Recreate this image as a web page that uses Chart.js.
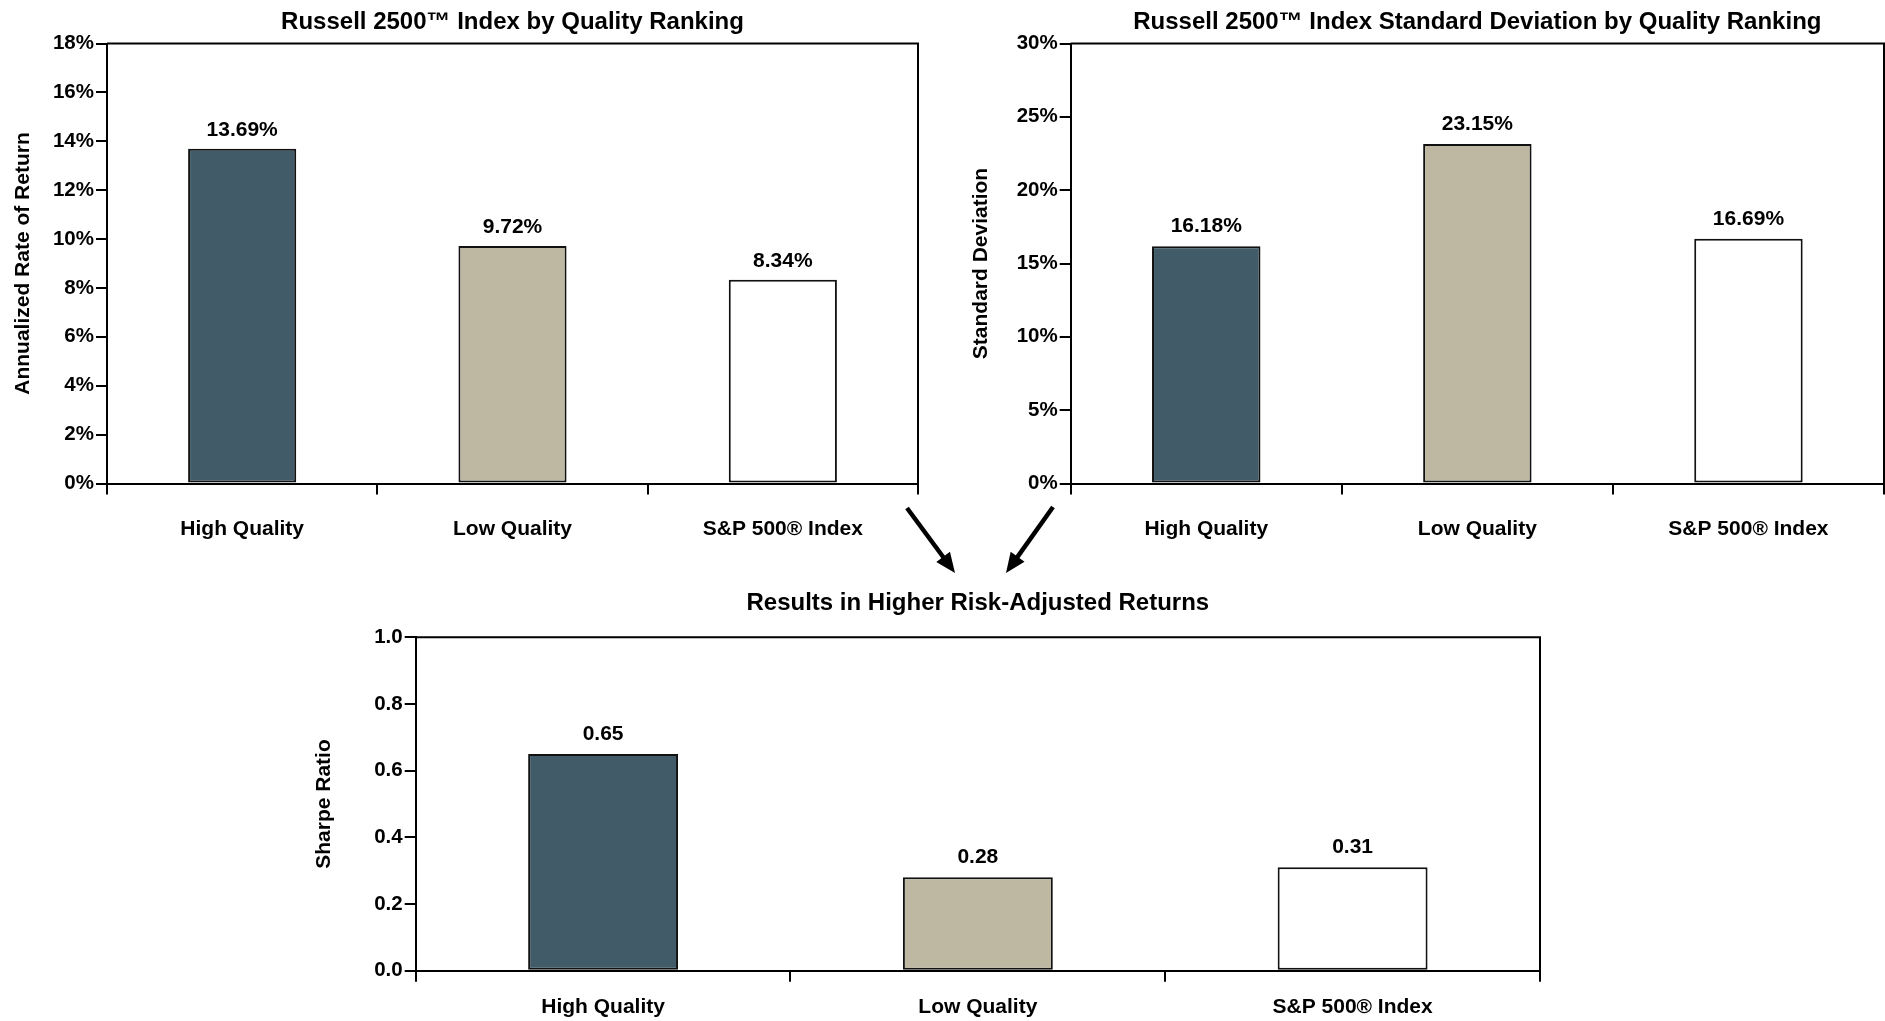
<!DOCTYPE html>
<html>
<head>
<meta charset="utf-8">
<script src="https://cdn.jsdelivr.net/npm/chart.js@4.4.1/dist/chart.umd.min.js"></script>
<style>
    body { margin: 0; background: #fff; width: 1885px; height: 1021px; overflow: hidden; position: relative; }
    .box { position: absolute; }
</style>
</head>
<body>
<div class="box" style="left:0px;top:0px;width:940px;height:560px"><canvas id="returnChart"></canvas></div>
<div class="box" style="left:960px;top:0px;width:925px;height:560px"><canvas id="stdChart"></canvas></div>
<div class="box" style="left:280px;top:490px;width:1300px;height:531px"><canvas id="sharpeChart"></canvas></div>
<script>
// data
const categories = ['High Quality', 'Low Quality', 'S&P 500® Index'];
const returnValues = [13.69, 9.72, 8.34];
const stdDevValues = [16.18, 23.15, 16.69];
const sharpeValues = [0.65, 0.28, 0.31];
const returnTicks = { min: 0, max: 18, step: 2 };
const stdDevTicks = { min: 0, max: 30, step: 5 };
const sharpeTicks = { min: 0, max: 1, step: 0.2 };
const barColors = ['#415b69', '#beb8a3', '#ffffff'];

const FONT = '"Liberation Sans", Arial, Helvetica, sans-serif';
Chart.defaults.font.family = FONT;
Chart.defaults.font.weight = 'bold';
Chart.defaults.color = '#000';

// value printed above each bar
const valueLabels = {
    id: 'valueLabels',
    afterDatasetsDraw(chart, args, opts) {
        const ctx = chart.ctx;
        const meta = chart.getDatasetMeta(0);
        const values = chart.data.datasets[0].data;
        ctx.save();
        ctx.font = 'bold 21px ' + FONT;
        ctx.fillStyle = '#000';
        ctx.textAlign = 'center';
        ctx.textBaseline = 'middle';
        meta.data.forEach((bar, i) => {
            ctx.fillText(opts.format(values[i]), bar.x, bar.y - opts.gap);
        });
        ctx.restore();
    }
};

// top and right edges of the plot box
const frame = {
    id: 'frame',
    afterDraw(chart) {
        const { ctx, chartArea: { left, right, top, bottom } } = chart;
        ctx.save();
        ctx.beginPath();
        ctx.moveTo(left, top);
        ctx.lineTo(right, top);
        ctx.lineTo(right, bottom);
        ctx.lineWidth = 2;
        ctx.strokeStyle = '#000';
        ctx.stroke();
        ctx.restore();
    }
};

// the two arrows pointing down to the sharpe chart
const arrows = {
    id: 'arrows',
    afterDraw(chart, args, opts) {
        const ctx = chart.ctx;
        ctx.save();
        ctx.strokeStyle = '#000';
        ctx.fillStyle = '#000';
        ctx.lineWidth = 4.5;
        opts.list.forEach(a => {
            const ang = Math.atan2(a.y2 - a.y1, a.x2 - a.x1);
            const head = 20, half = 8.5;
            const bx = a.x2 - head * Math.cos(ang), by = a.y2 - head * Math.sin(ang);
            ctx.beginPath();
            ctx.moveTo(a.x1, a.y1);
            ctx.lineTo(bx + 2 * Math.cos(ang), by + 2 * Math.sin(ang));
            ctx.stroke();
            ctx.beginPath();
            ctx.moveTo(a.x2, a.y2);
            ctx.lineTo(bx - half * Math.sin(ang), by + half * Math.cos(ang));
            ctx.lineTo(bx + half * Math.sin(ang), by - half * Math.cos(ang));
            ctx.closePath();
            ctx.fill();
        });
        ctx.restore();
    }
};

function makeChart(id, cfg) {
    const plugins = [valueLabels, frame];
    if (cfg.arrows) plugins.push(arrows);
    return new Chart(document.getElementById(id), {
        type: 'bar',
        data: {
            labels: categories,
            datasets: [{
                data: cfg.values,
                backgroundColor: barColors,
                borderColor: '#111',
                borderWidth: 2,
                borderSkipped: false,
                categoryPercentage: 1,
                barPercentage: 0.4
            }]
        },
        options: {
            responsive: true,
            maintainAspectRatio: false,
            animation: false,
            layout: { padding: { left: 0, right: cfg.padRight, top: 0, bottom: 0 } },
            plugins: {
                legend: { display: false },
                tooltip: { enabled: false },
                title: {
                    display: true,
                    text: cfg.title,
                    fullSize: false,
                    color: '#000',
                    font: { size: 24, weight: 'bold', lineHeight: 1.2 },
                    padding: { top: cfg.titleTop, bottom: cfg.titleBottom }
                },
                valueLabels: { format: cfg.format, gap: cfg.gap },
                arrows: { list: cfg.arrows || [] }
            },
            scales: {
                x: {
                    grid: { display: true, drawOnChartArea: false, drawTicks: true, tickLength: 11, color: '#000', lineWidth: 2, offset: true },
                    border: { display: true, color: '#000', width: 2 },
                    ticks: { font: { size: 21, weight: 'bold' }, color: '#000', padding: cfg.xPad },
                    afterFit: s => { s.height = cfg.xHeight; }
                },
                y: {
                    min: cfg.ticks.min,
                    max: cfg.ticks.max,
                    grid: { display: true, drawOnChartArea: false, drawTicks: true, tickLength: 11, color: '#000', lineWidth: 2 },
                    border: { display: true, color: '#000', width: 2 },
                    ticks: { stepSize: cfg.ticks.step, font: { size: 20.5, weight: 'bold' }, color: '#000', padding: 2, callback: cfg.tickFormat },
                    title: {
                        display: true,
                        text: cfg.yTitle,
                        color: '#000',
                        font: { size: 21, weight: 'bold', lineHeight: 1.2 },
                        padding: { top: cfg.yTitlePad, bottom: 0 }
                    },
                    afterFit: s => { s.width = cfg.yWidth; }
                }
            }
        },
        plugins: plugins
    });
}

makeChart('returnChart', {
    values: returnValues,
    ticks: returnTicks,
    title: 'Russell 2500™ Index by Quality Ranking',
    yTitle: 'Annualized Rate of Return',
    format: v => v.toFixed(2) + '%',
    tickFormat: v => v + '%',
    padRight: 22, titleTop: 7.5, titleBottom: 7.2, xHeight: 76.5, xPad: 22, yWidth: 107, yTitlePad: 10.5, gap: 18.5
});

makeChart('stdChart', {
    values: stdDevValues,
    ticks: stdDevTicks,
    title: 'Russell 2500™ Index Standard Deviation by Quality Ranking',
    yTitle: 'Standard Deviation',
    format: v => v.toFixed(2) + '%',
    tickFormat: v => v + '%',
    padRight: 1, titleTop: 7.5, titleBottom: 7.2, xHeight: 76.5, xPad: 22, yWidth: 110.7, yTitlePad: 9, gap: 19.5
});

makeChart('sharpeChart', {
    values: sharpeValues,
    ticks: sharpeTicks,
    title: 'Results in Higher Risk-Adjusted Returns',
    yTitle: 'Sharpe Ratio',
    format: v => v.toFixed(2),
    tickFormat: v => v.toFixed(1),
    padRight: 40, titleTop: 98.6, titleBottom: 19.9, xHeight: 50.3, xPad: 13, yWidth: 135.7, yTitlePad: 32, gap: 20,
    arrows: [
        { x1: 627, y1: 18, x2: 675, y2: 83 },
        { x1: 773, y1: 17, x2: 726, y2: 83 }
    ]
});
</script>
</body>
</html>
